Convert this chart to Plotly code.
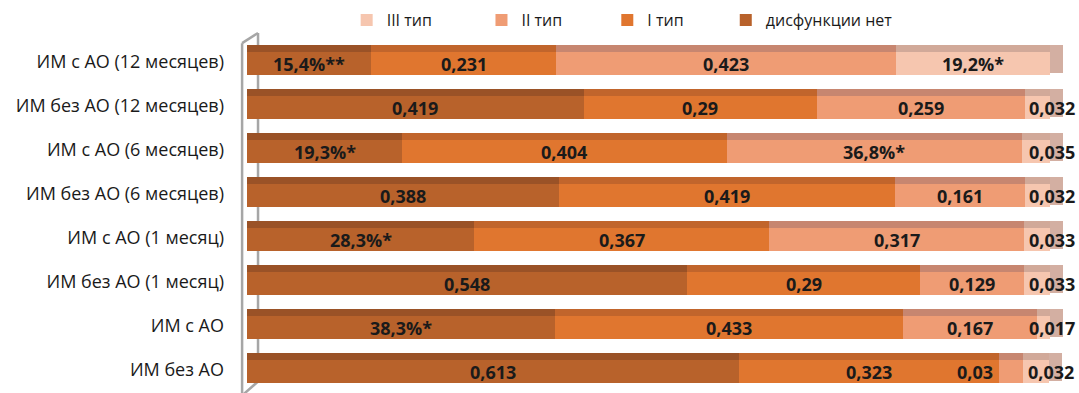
import numpy as np
import plotly.graph_objects as go

categories = [
    "ИМ с АО (12 месяцев)",
    "ИМ без АО (12 месяцев)",
    "ИМ с АО (6 месяцев)",
    "ИМ без АО (6 месяцев)",
    "ИМ с АО (1 месяц)",
    "ИМ без АО (1 месяц)",
    "ИМ с АО",
    "ИМ без АО",
]
series_names = ["дисфункции нет", "I тип", "II тип", "III тип"]
no_dysf = [0.154, 0.419, 0.193, 0.388, 0.283, 0.548, 0.383, 0.613]
type1 = [0.231, 0.290, 0.404, 0.419, 0.367, 0.290, 0.433, 0.323]
type2 = [0.423, 0.259, 0.368, 0.161, 0.317, 0.129, 0.167, 0.030]
type3 = [0.192, 0.032, 0.035, 0.032, 0.033, 0.033, 0.017, 0.032]

labels_no = ["15,4%**", "0,419", "19,3%*", "0,388", "28,3%*", "0,548", "38,3%*", "0,613"]
labels_t1 = ["0,231", "0,29", "0,404", "0,419", "0,367", "0,29", "0,433", "0,323"]
labels_t2 = ["0,423", "0,259", "36,8%*", "0,161", "0,317", "0,129", "0,167", "0,03"]
labels_t3 = ["19,2%*", "0,032", "0,035", "0,032", "0,033", "0,033", "0,017", "0,032"]

face_colors = ["#B8622B", "#E0762F", "#EF9C74", "#F6C6AF"]
top_colors = ["#9A5227", "#C1652C", "#C78670", "#D1A999"]
side_color = "#D3AFA2"

values = np.array([no_dysf, type1, type2, type3])
bases = np.vstack([np.zeros(len(categories)), np.cumsum(values, axis=0)[:-1]])
totals = values.sum(axis=0)
all_labels = [labels_no, labels_t1, labels_t2, labels_t3]

legend_ids = ["legend4", "legend3", "legend2", "legend"]
legend_x = [0.586, 0.441, 0.287, 0.122]

fig = go.Figure()
FACE_OFF, FACE_W = -0.295, 0.52
TOP_OFF, TOP_W = 0.225, 0.16
DEPTH = 0.016

for i, name in enumerate(series_names):
    fig.add_trace(go.Bar(
        y=categories, x=values[i], base=bases[i], orientation="h",
        name=name, marker=dict(color=face_colors[i], line=dict(width=0)),
        offset=FACE_OFF, width=FACE_W, legend=legend_ids[i],
        hoverinfo="skip",
    ))
    fig.add_trace(go.Bar(
        y=categories, x=values[i], base=bases[i], orientation="h",
        showlegend=False, marker=dict(color=top_colors[i], line=dict(width=0)),
        offset=TOP_OFF, width=TOP_W, hoverinfo="skip",
    ))

# right side face of the 3D bars
fig.add_trace(go.Bar(
    y=categories, x=[DEPTH] * len(categories), base=totals, orientation="h",
    showlegend=False, marker=dict(color=side_color, line=dict(width=0)),
    offset=FACE_OFF + 0.04, width=FACE_W + TOP_W - 0.04, hoverinfo="skip",
))

annotations = []
for i in range(4):
    for j, cat in enumerate(categories):
        txt = all_labels[i][j]
        xc = bases[i][j] + values[i][j] / 2
        xshift = 0
        if i == 3 and j != 0:
            xc = totals[j]
            xshift = 2
        if i == 2 and j == 7:
            xshift = -36
        annotations.append(dict(
            x=xc, y=cat, xref="x", yref="y", text=txt, showarrow=False,
            xanchor="center", yanchor="middle", xshift=xshift, yshift=-2,
            font=dict(family="Open Sans", size=18, color="#1A1A1A", weight="bold"),
        ))

legend_common = dict(
    orientation="h", y=1.105, xanchor="left", yanchor="top",
    font=dict(family="Open Sans", size=16, color="#1A1A1A"),
    itemclick=False, itemdoubleclick=False, bgcolor="rgba(0,0,0,0)",
)
legend_layout = {}
for lid, lx in zip(legend_ids, legend_x):
    legend_layout[lid] = dict(legend_common, x=lx)

fig.update_layout(
    width=1079, height=393,
    margin=dict(l=247, r=15, t=40, b=1),
    paper_bgcolor="white", plot_bgcolor="white",
    barmode="overlay", bargap=0,
    annotations=annotations,
    **legend_layout,
    xaxis=dict(range=[0, 1.0 + DEPTH + 0.001], showgrid=False, zeroline=False,
               showticklabels=False, showline=False, ticks=""),
    yaxis=dict(categoryorder="array", categoryarray=categories[::-1],
               showgrid=False, zeroline=False, showline=False, ticks="",
               ticklabelstandoff=22,
               tickfont=dict(family="Open Sans", size=18, color="#1A1A1A")),
    shapes=[
        dict(type="line", xref="paper", yref="paper", x0=-0.006, x1=-0.006, y0=-0.01, y1=0.991,
             line=dict(color="#A6A6A6", width=2.5), layer="below"),
        dict(type="line", xref="paper", yref="paper", x0=0.0135, x1=0.0135, y0=0.03, y1=1.02,
             line=dict(color="#A6A6A6", width=2.5), layer="below"),
        dict(type="line", xref="paper", yref="paper", x0=-0.006, x1=0.0135, y0=0.991, y1=1.02,
             line=dict(color="#A6A6A6", width=2.5), layer="below"),
        dict(type="line", xref="paper", yref="paper", x0=-0.006, x1=0.0135, y0=-0.01, y1=0.03,
             line=dict(color="#A6A6A6", width=2.5), layer="below"),
    ],
)

fig.write_html("out.html")
